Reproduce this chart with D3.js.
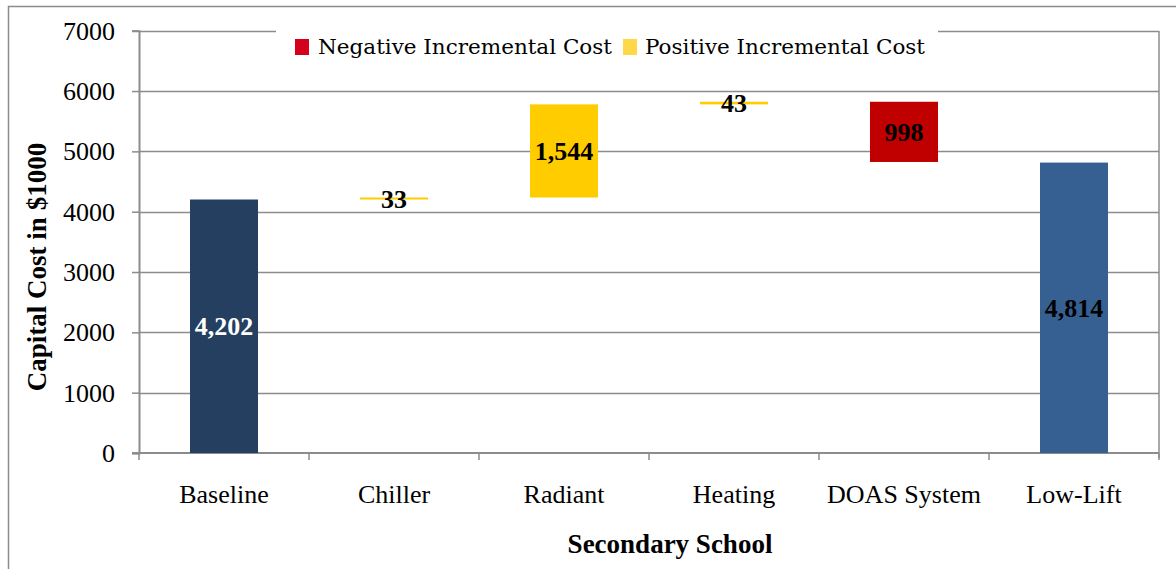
<!DOCTYPE html>
<html><head><meta charset="utf-8">
<script src="https://cdn.jsdelivr.net/npm/d3@7"></script>
<style>body{margin:0;background:#fff}svg{display:block}</style>
</head><body>
<svg id="c" width="1176" height="569"></svg>
<script>
const categories = ["Baseline","Chiller","Radiant","Heating","DOAS System","Low-Lift"];
const values = [4202, 33, 1544, 43, -998, 4814];
const kinds = ["total","delta","delta","delta","delta","total"];
const labels = ["4,202","33","1,544","43","998","4,814"];
const yTicks = [0,1000,2000,3000,4000,5000,6000,7000];
const legendItems = ["Negative Incremental Cost","Positive Incremental Cost"];

const FONT = "'Liberation Serif','Times New Roman',Times,serif";
const svg = d3.select("#c");
const L = 139, R = 1159, T = 30.7, B = 453;
const x = d3.scaleBand().domain(categories).range([L,R]).paddingInner(0.6).paddingOuter(0.3);
const xb = d3.scaleBand().domain(categories).range([L,R]);
const y = d3.scaleLinear().domain([0,7000]).range([B,T]);

// outer border
svg.append("path").attr("d","M8.5,569 V6.5 H1176").attr("fill","none").attr("stroke","#8c8c8c").attr("stroke-width",1.5);

// gridlines
svg.append("g").selectAll("line").data(yTicks.slice(1)).join("line")
  .attr("x1",L).attr("x2",R).attr("y1",d=>Math.round(y(d))+0.5).attr("y2",d=>Math.round(y(d))+0.5)
  .attr("stroke","#8c8c8c").attr("stroke-width",1.5);
// right border of plot
svg.append("line").attr("x1",R).attr("x2",R).attr("y1",Math.round(y(7000))).attr("y2",B+5).attr("stroke","#8c8c8c").attr("stroke-width",1.5);

// y axis
const ya = svg.append("g").attr("transform",`translate(${L},0)`)
  .call(d3.axisLeft(y).tickValues(yTicks).tickSize(7).tickPadding(17).tickFormat(d3.format("d")));
ya.select(".domain").attr("stroke","#8c8c8c").attr("stroke-width",2);
ya.selectAll(".tick line").attr("stroke","#8c8c8c").attr("stroke-width",1.5);
ya.selectAll("text").style("font-family",FONT).style("font-size","26px").attr("fill","#000").attr("dy","0.33em");

// x axis
const xa = svg.append("g").attr("transform",`translate(0,${B})`);
xa.append("line").attr("x1",L-7).attr("x2",R).attr("y1",0).attr("y2",0).attr("stroke","#8c8c8c").attr("stroke-width",2);
xa.selectAll("line.tk").data(categories.concat(["end"])).join("line").attr("class","tk")
  .attr("x1",(d,i)=>L+i*xb.bandwidth()).attr("x2",(d,i)=>L+i*xb.bandwidth())
  .attr("y1",0).attr("y2",7).attr("stroke","#8c8c8c").attr("stroke-width",1.5);
xa.selectAll("text").data(categories).join("text")
  .attr("x",d=>xb(d)+xb.bandwidth()/2).attr("y",50).attr("text-anchor","middle")
  .style("font-family",FONT).style("font-size","26px").text(d=>d);

// waterfall
let run = 0;
const bars = values.map((v,i)=>{
  let lo, hi, color;
  if (kinds[i]==="total"){ lo=0; hi=v; run=v; color = i===0 ? "#243F60" : "#376092"; }
  else { const s=run; run=s+v; lo=Math.min(s,run); hi=Math.max(s,run); color = v<0 ? "#C00000" : "#FFCC00"; }
  return {c:categories[i], lo, hi, color, label:labels[i], kind:kinds[i], v};
});
svg.append("g").selectAll("rect").data(bars).join("rect")
  .attr("x",d=>x(d.c)).attr("width",x.bandwidth())
  .attr("y",d=>y(d.hi)).attr("height",d=>Math.max(2,y(d.lo)-y(d.hi)))
  .attr("fill",d=>d.color);
svg.append("g").selectAll("text").data(bars).join("text")
  .attr("x",d=>x(d.c)+x.bandwidth()/2)
  .attr("y",d=>(y(d.lo)+y(d.hi))/2).attr("dy","0.35em")
  .attr("text-anchor","middle").style("font-family",FONT).style("font-weight","bold")
  .style("font-size","26px").attr("fill",(d,i)=>i===0?"#fff":"#000").text(d=>d.label);

// legend
svg.append("rect").attr("x",276).attr("y",22).attr("width",662).attr("height",42).attr("fill","#fff");
const lg = svg.append("g");
const lgColors = ["#D5001C","#FFD84A"];
const lgX = [295, 623], lgT = [318, 645], lgW = [294, 280];
legendItems.forEach((t,i)=>{
  lg.append("rect").attr("x",lgX[i]).attr("y",39).attr("width",14).attr("height",16).attr("fill",lgColors[i]);
  lg.append("text").attr("x",lgT[i]).attr("y",54).style("font-family","'DejaVu Serif',serif").style("font-size","20px")
    .attr("textLength",lgW[i]).attr("lengthAdjust","spacingAndGlyphs").text(t);
});

// axis titles
svg.append("text").attr("transform","translate(46,267) rotate(-90)").attr("text-anchor","middle")
  .style("font-family",FONT).style("font-weight","bold").style("font-size","27px").text("Capital Cost in $1000");
svg.append("text").attr("x",670).attr("y",553).attr("text-anchor","middle")
  .style("font-family",FONT).style("font-weight","bold").style("font-size","27px").text("Secondary School");
</script>
</body></html>
